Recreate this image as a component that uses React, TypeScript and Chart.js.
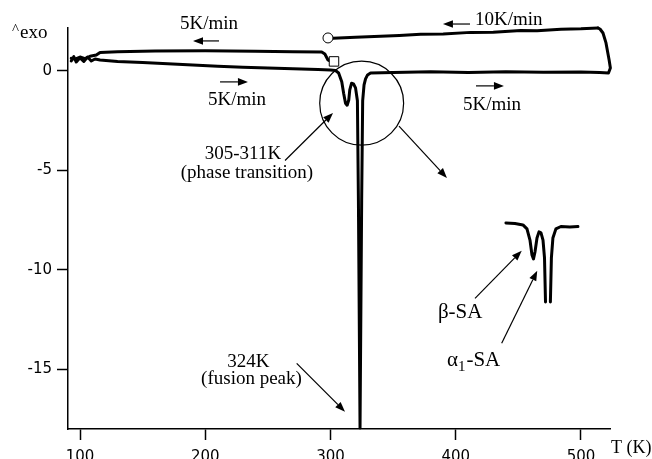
import { useEffect, useRef } from "react";
import { Chart, registerables } from "chart.js";

Chart.register(...registerables);

// Axis ranges and ticks (T in K, heat flow in a.u.)
const xRange: [number, number] = [90.4, 523.2];
const yRange: [number, number] = [-18, 2.16];
const xTicks = [100, 200, 300, 400, 500];
const yTicks = [0, -5, -10, -15];

// Heating scan at 5K/min, followed by the turn-around at 523 K
const heatingScan: [number, number][] = [
  [93, 0.5], [95, 0.72], [97, 0.45], [100, 0.66], [103, 0.48], [106, 0.7], [109, 0.5],
  [112, 0.6], [116, 0.55], [130, 0.48], [150, 0.42], [170, 0.36], [190, 0.3],
  [210, 0.24], [230, 0.19], [250, 0.15], [270, 0.11], [290, 0.07], [300, 0.05],
  [304, 0.02], [306.5, -0.1], [309, -0.54], [310.5, -1.12], [312, -1.62], [313.3, -1.72],
  [314.6, -1.46], [315.4, -0.95], [316.8, -0.62], [318.4, -0.65], [320, -0.85],
  [321.5, -1.5], [322.3, -6.5], [323.6, -17.95], [324.9, -6.5], [325.7, -1.5],
  [326.8, -0.7], [328, -0.4], [329.6, -0.2], [332, -0.1], [350, -0.08], [380, -0.04],
  [410, -0.08], [440, -0.04], [470, -0.07], [500, -0.05], [515, -0.08], [522, -0.1],
  [523.5, 0.15], [522.5, 0.55], [520, 1.41], [517.6, 1.91], [515.2, 2.11], [513.6, 2.16],
];

// Cooling scan at 10K/min (from 513 K back to ~300 K)
const cooling10: [number, number][] = [
  [513.6, 2.16], [500, 2.12], [484, 2.1], [465, 2.02], [452, 2.03], [430, 1.95],
  [412, 1.94], [390, 1.86], [372, 1.84], [355, 1.78], [340, 1.74], [320, 1.7], [302, 1.64],
];

// Cooling scan at 5K/min (from ~300 K down to ~93 K)
const cooling5: [number, number][] = [
  [301, 0.45], [298, 0.55], [295.5, 0.85], [293, 0.95], [270, 0.96], [240, 0.99],
  [200, 1.02], [160, 1.0], [130, 0.96], [116, 0.93], [113, 0.8], [108, 0.74],
  [104, 0.62], [100, 0.7], [96, 0.6], [93, 0.64],
];

// Inset: magnified double peak (beta-SA / alpha1-SA); null = open bottom
const insetPeaks: [number, number | null][] = [
  [440.1, -7.64], [447.3, -7.67], [453.7, -7.74], [456.9, -7.94], [459.3, -8.5],
  [460.9, -9.25], [462.1, -9.45], [463.3, -9.1], [464.9, -8.4], [466.5, -8.09],
  [468.1, -8.14], [469.7, -8.5], [470.9, -9.4], [471.7, -11.61], [473.6, null],
  [475.6, -11.61], [476.4, -9.4], [477.6, -8.4], [480, -7.94], [484, -7.82],
  [491.2, -7.84], [497.6, -7.82],
];

const circleMark: [number, number] = [298, 1.66];
const squareMark: [number, number] = [302.8, 0.48];

// Annotation texts: [text, T, value, align, font size]
const notes: [string, number, number, CanvasTextAlign, number][] = [
  ["5K/min", 179.8, 2.11, "left", 19],
  ["10K/min", 415.4, 2.29, "left", 19],
  ["5K/min", 202.2, -1.71, "left", 19],
  ["5K/min", 405.8, -1.96, "left", 19],
  ["305-311K", 230.1, -4.42, "center", 19],
  ["(phase transition)", 233.3, -5.38, "center", 19],
  ["324K", 234.5, -14.88, "center", 19],
  ["(fusion peak)", 236.9, -15.74, "center", 19],
  ["β-SA", 385.8, -12.42, "left", 21],
];
const alphaNote: [number, number] = [393.0, -14.83];

// Arrows: [T1, v1, T2, v2], head at the second point
const arrows: [number, number, number, number][] = [
  [211.0, 1.51, 190.2, 1.51],
  [411.4, 2.36, 389.8, 2.36],
  [211.8, -0.55, 234.1, -0.55],
  [416.2, -0.75, 438.5, -0.75],
  [263.7, -4.5, 302.0, -2.11],
  [354.7, -2.77, 393.0, -5.38],
  [273.0, -14.7, 311.6, -17.13],
  [415.4, -11.43, 452.7, -9.04],
  [436.7, -13.69, 465.1, -10.04],
];

// Magnifier circle: [T, value, radius T, radius value]
const lens: [number, number, number, number] = [324.9, -1.62, 33.5, 2.11];

const SERIF = '"Liberation Serif", "Times New Roman", serif';

const annotationPlugin = {
  id: "annotations",
  afterDraw(chart: any) {
    const { ctx, chartArea } = chart;
    const xs = chart.scales.x;
    const ys = chart.scales.y;
    const px = (v: number) => xs.getPixelForValue(v);
    const py = (v: number) => ys.getPixelForValue(v);
    ctx.save();
    ctx.fillStyle = "#000";
    ctx.strokeStyle = "#000";
    ctx.textBaseline = "alphabetic";
    for (const [t, x, y, a, s] of notes) {
      ctx.font = `${s}px ${SERIF}`;
      ctx.textAlign = a;
      ctx.fillText(t, px(x), py(y));
    }
    // alpha_1-SA with subscript
    {
      let x = px(alphaNote[0]);
      const y = py(alphaNote[1]);
      ctx.textAlign = "left";
      ctx.font = `21px ${SERIF}`;
      ctx.fillText("α", x, y);
      x += ctx.measureText("α").width;
      ctx.font = `15px ${SERIF}`;
      ctx.fillText("1", x, y + 5);
      x += ctx.measureText("1").width + 1;
      ctx.font = `21px ${SERIF}`;
      ctx.fillText("-SA", x, y);
    }
    // arrows
    ctx.lineWidth = 1.2;
    for (const [x1, y1, x2, y2] of arrows) {
      const ax = px(x1), ay = py(y1), bx = px(x2), by = py(y2);
      const ang = Math.atan2(by - ay, bx - ax);
      const L = 10, W = 3.8;
      const hx = bx - L * Math.cos(ang), hy = by - L * Math.sin(ang);
      ctx.beginPath();
      ctx.moveTo(ax, ay);
      ctx.lineTo(hx, hy);
      ctx.stroke();
      ctx.beginPath();
      ctx.moveTo(bx, by);
      ctx.lineTo(hx + W * Math.sin(ang), hy - W * Math.cos(ang));
      ctx.lineTo(hx - W * Math.sin(ang), hy + W * Math.cos(ang));
      ctx.closePath();
      ctx.fill();
    }
    // magnifier circle
    {
      const cx = px(lens[0]), cy = py(lens[1]);
      const rx = px(lens[0] + lens[2]) - cx;
      const ry = py(lens[1] - lens[3]) - cy;
      ctx.lineWidth = 1.2;
      ctx.beginPath();
      ctx.ellipse(cx, cy, rx, ry, 0, 0, Math.PI * 2);
      ctx.stroke();
    }
    // axis captions
    ctx.textAlign = "left";
    ctx.font = `15px ${SERIF}`;
    ctx.fillText("^", chartArea.left - 56, chartArea.top + 6);
    ctx.font = `19px ${SERIF}`;
    ctx.fillText("exo", chartArea.left - 48, chartArea.top + 10);
    ctx.font = `18px ${SERIF}`;
    ctx.fillText("T (K)", chartArea.right + 1, chartArea.bottom + 24);
    ctx.restore();
  },
};

export default function App() {
  const ref = useRef<HTMLCanvasElement | null>(null);
  useEffect(() => {
    if (!ref.current) return;
    const line = (pts: [number, number | null][]) => pts.map(([x, y]) => ({ x, y }));
    const base = {
      showLine: true,
      borderColor: "#000",
      backgroundColor: "#000",
      borderWidth: 3,
      pointRadius: 0,
      tension: 0,
      clip: false as any,
      borderJoinStyle: "round" as const,
      borderCapStyle: "round" as const,
    };
    const chart = new Chart(ref.current, {
      type: "scatter",
      data: {
        datasets: [
          {
            data: line([circleMark]),
            pointStyle: "circle",
            pointRadius: 5,
            pointBackgroundColor: "#fff",
            pointBorderColor: "#000",
            pointBorderWidth: 1,
            showLine: false,
            order: -1,
            clip: false as any,
          },
          {
            data: line([squareMark]),
            pointStyle: "rect",
            pointRadius: 6.7,
            pointBackgroundColor: "#fff",
            pointBorderColor: "#000",
            pointBorderWidth: 1,
            showLine: false,
            order: -1,
            clip: false as any,
          },
          { ...base, data: line(heatingScan) },
          { ...base, data: line(cooling10) },
          { ...base, data: line(cooling5) },
          { ...base, data: line(insetPeaks), spanGaps: false },
        ] as any,
      },
      options: {
        animation: false,
        responsive: false,
        layout: { padding: { top: 28, right: 42, left: 0, bottom: 0 } },
        plugins: { legend: { display: false }, tooltip: { enabled: false } },
        scales: {
          x: {
            type: "linear",
            min: xRange[0],
            max: xRange[1],
            afterBuildTicks: (s: any) => {
              s.ticks = xTicks.map((v) => ({ value: v }));
            },
            afterFit: (s: any) => {
              s.height = 30;
            },
            grid: {
              display: true,
              drawOnChartArea: false,
              drawTicks: true,
              tickLength: 11,
              tickWidth: 1.5,
              tickColor: "#000",
              color: "#000",
            },
            border: { display: true, color: "#000", width: 1.5 },
            ticks: {
              font: { family: "DejaVu Sans", size: 15 },
              color: "#000",
              padding: 8,
              maxRotation: 0,
              autoSkip: false,
            },
          },
          y: {
            type: "linear",
            min: yRange[0],
            max: yRange[1],
            afterBuildTicks: (s: any) => {
              s.ticks = yTicks.map((v) => ({ value: v }));
            },
            afterFit: (s: any) => {
              s.width = 68;
            },
            grid: {
              display: true,
              drawOnChartArea: false,
              drawTicks: true,
              tickLength: 11,
              tickWidth: 1.5,
              tickColor: "#000",
              color: "#000",
            },
            border: { display: true, color: "#000", width: 1.5 },
            ticks: {
              font: { family: "DejaVu Sans", size: 15 },
              color: "#000",
              padding: 5,
              autoSkip: false,
            },
          },
        },
      },
      plugins: [annotationPlugin],
    });
    return () => chart.destroy();
  }, []);
  return (
    <canvas
      ref={ref}
      width={652}
      height={459}
      style={{ position: "fixed", left: 0, top: 0, display: "block" }}
    />
  );
}
